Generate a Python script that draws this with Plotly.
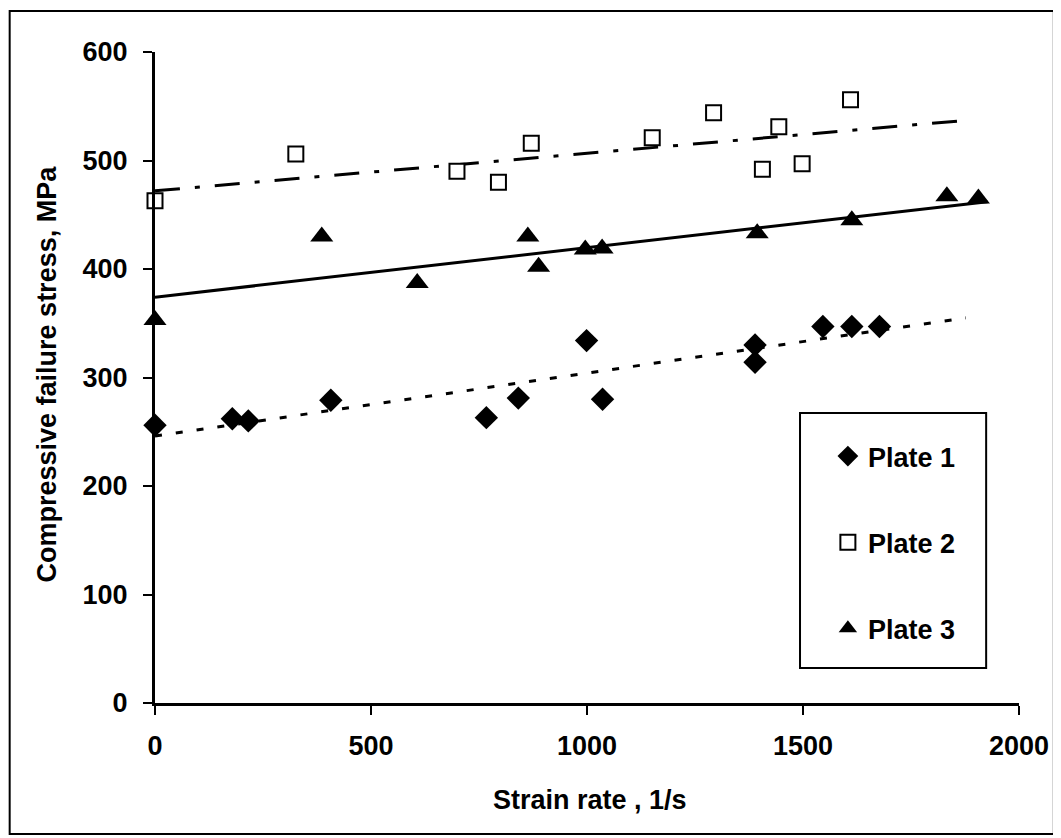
import plotly.graph_objects as go

# ---- data ----
plate1_x = [0, 179, 216, 407, 767, 841, 999, 1036, 1389, 1389, 1546, 1613, 1677]
plate1_y = [256, 262, 260, 279, 263, 281, 334, 280, 330, 314, 347, 347, 347]

plate2_x = [0, 326, 699, 795, 871, 1151, 1293, 1406, 1444, 1498, 1610]
plate2_y = [463, 506, 490, 480, 516, 521, 544, 492, 531, 497, 556]

plate3_x = [0, 386, 607, 863, 888, 996, 1035, 1394, 1613, 1833, 1906]
plate3_y = [353, 430, 387, 430, 402, 418, 419, 433, 445, 467, 465]

# trend lines (end points)
trend1_x = [0, 1877]
trend1_y = [246, 355]
trend2_x = [0, 1877]
trend2_y = [472, 537]
trend3_x = [0, 1927]
trend3_y = [374, 462]

x_ticks = [0, 500, 1000, 1500, 2000]
y_ticks = [0, 100, 200, 300, 400, 500, 600]

FONT = "Liberation Sans, Arial, sans-serif"

fig = go.Figure()

# trend lines
fig.add_trace(go.Scatter(x=trend1_x, y=trend1_y, mode="lines", showlegend=False,
                         line=dict(color="black", width=3, dash="7px,14px"),
                         hoverinfo="skip"))
fig.add_trace(go.Scatter(x=trend2_x, y=trend2_y, mode="lines", showlegend=False,
                         line=dict(color="black", width=3, dash="25px,15px,5px,15px"),
                         hoverinfo="skip"))
fig.add_trace(go.Scatter(x=trend3_x, y=trend3_y, mode="lines", showlegend=False,
                         line=dict(color="black", width=3),
                         hoverinfo="skip"))

# markers
fig.add_trace(go.Scatter(x=plate1_x, y=plate1_y, mode="markers", name="Plate 1",
                         legendgroup="g1", cliponaxis=False,
                         marker=dict(symbol="diamond", size=18, color="black",
                                     line=dict(width=0))))
fig.add_trace(go.Scatter(x=plate2_x, y=plate2_y, mode="markers", name="Plate 2",
                         legendgroup="g2", cliponaxis=False,
                         marker=dict(symbol="square", size=15, color="white",
                                     line=dict(color="black", width=2))))
fig.add_trace(go.Scatter(x=plate3_x, y=plate3_y, mode="markers", name="Plate 3",
                         legendgroup="g3", cliponaxis=False,
                         marker=dict(symbol="triangle-up", size=20, color="black",
                                     line=dict(width=0))))

# page body has an 8px margin: the figure starts at screen (8, 8)
OFF = 8
W, H = 1061 - OFF, 838 - OFF
L, R, T, B = 155 - OFF, 38, 52 - OFF, 135
pw, ph = W - L - R, H - T - B

def px(xs):
    # screen x -> paper x
    return (xs - OFF - L) / pw

def py(ys):
    # screen y -> paper y
    return (H - B - (ys - OFF)) / ph

fig.update_layout(
    width=W, height=H,
    margin=dict(l=L, r=R, t=T, b=B, pad=0),
    paper_bgcolor="white", plot_bgcolor="white",
    font=dict(family=FONT, size=27, color="black"),
    showlegend=True,
    legend=dict(
        x=px(831), y=py(432), xanchor="left", yanchor="top",
        bgcolor="rgba(0,0,0,0)", borderwidth=0,
        traceorder="grouped", tracegroupgap=48,
        font=dict(family=FONT, size=27, color="black", weight="bold"),
        itemsizing="trace",
    ),
    xaxis=dict(
        range=[0, 2000], tickvals=x_ticks, ticktext=[str(v) for v in x_ticks],
        showgrid=False, zeroline=False, showline=True, linecolor="black", linewidth=3,
        ticks="outside", ticklen=9, tickwidth=2, tickcolor="black",
        tickfont=dict(family=FONT, size=27, color="black", weight="bold"),
        ticklabelstandoff=8,
    ),
    yaxis=dict(
        range=[0, 600], tickvals=y_ticks, ticktext=[str(v) for v in y_ticks],
        showgrid=False, zeroline=False, showline=True, linecolor="black", linewidth=3,
        ticks="outside", ticklen=9, tickwidth=2, tickcolor="black",
        tickfont=dict(family=FONT, size=27, color="black", weight="bold"),
        ticklabelstandoff=10,
    ),
    annotations=[
        dict(text="Strain rate , 1/s", xref="paper", yref="paper",
             x=px(592), y=py(800), xanchor="center", yanchor="middle",
             showarrow=False, font=dict(family=FONT, size=27, color="black", weight="bold")),
        dict(text="Compressive failure stress, MPa", xref="paper", yref="paper",
             x=px(47), y=py(374), xanchor="center", yanchor="middle", textangle=-90,
             showarrow=False, font=dict(family=FONT, size=27, color="black", weight="bold")),
    ],
    shapes=[
        # legend box
        dict(type="rect", xref="paper", yref="paper",
             x0=px(803), x1=px(990), y0=py(668), y1=py(413),
             line=dict(color="black", width=2), fillcolor="rgba(0,0,0,0)"),
        # outer frame of the figure
        dict(type="rect", xref="paper", yref="paper",
             x0=px(9), x1=px(1058), y0=py(834), y1=py(11),
             line=dict(color="black", width=2), fillcolor="rgba(0,0,0,0)"),
    ],
)

fig.write_html("out.html")
